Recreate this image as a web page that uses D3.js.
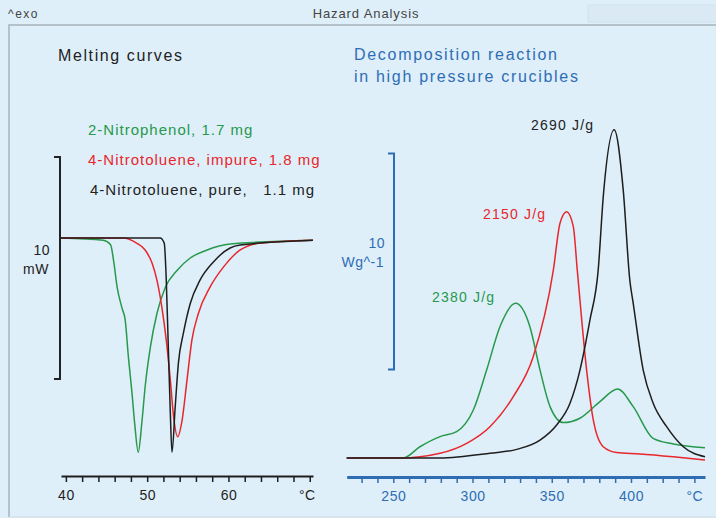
<!DOCTYPE html>
<html>
<head>
<meta charset="utf-8">
<script src="https://cdn.jsdelivr.net/npm/d3@7"></script>
<style>
html, body { margin: 0; padding: 0; background: #deeffa; }
svg { display: block; font-family: "Liberation Sans", Arial, sans-serif; }
</style>
</head>
<body>
<svg id="chart" width="716" height="518"></svg>
<script>
// ---- melting curves (left panel), heat flow in mW, endotherm down ----
var meltTicks = d3.range(40, 71, 2)
var meltLabels = [40, 50, 60]

var phenolTemp = [39.4, 44.6, 45.5, 45.9, 46.3, 46.9, 47.3, 47.7, 48.1, 48.5, 48.9, 49.35, 49.75, 50.4, 51.2, 52.2, 53.7, 55.3, 57.3, 60.2, 70.4]
var phenolVal  = [0, -0.1, -0.3, -1.1, -2.2, -3.15, -3.7, -5.4, -6.85, -8.5, -9.65, -8.3, -6.7, -4.9, -3.4, -2.25, -1.45, -0.9, -0.55, -0.27, -0.1]

var impureTemp = [39.4, 47.05, 48.7, 49.75, 50.6, 51.2, 51.8, 52.35, 52.85, 53.25, 53.75, 54.3, 54.9, 55.5, 56.3, 57.75, 59.4, 61.4, 63.9, 70.4]
var impureVal  = [0, 0, -0.23, -0.54, -1.13, -1.9, -3.1, -4.6, -6.4, -8.05, -8.95, -8.2, -6.4, -4.6, -3.4, -2.2, -1.3, -0.55, -0.23, -0.1]

var pureTemp = [39.4, 51.6, 52.1, 52.35, 52.6, 52.85, 53.05, 53.45, 53.85, 54.45, 55.3, 56.5, 58.15, 60.2, 61.45, 70.4]
var pureVal  = [0, 0, -0.23, -1.9, -4.9, -7.9, -9.65, -7.6, -5.6, -4.3, -2.95, -1.9, -1.08, -0.45, -0.32, -0.1]

var meltNames = ["2-Nitrophenol, 1.7 mg", "4-Nitrotoluene, impure, 1.8 mg", "4-Nitrotoluene, pure,   1.1 mg"]

// ---- decomposition (right panel), W/g, exotherm up ----
var decoTicks = d3.range(230, 441, 10)
var decoLabels = [250, 300, 350, 400]

var greenTemp = [220.6, 256.3, 266.8, 279.5, 290, 300.5, 308.9, 317.3, 327.2, 336.2, 342.6, 348.9, 357.3, 367.8, 380.4, 391.6, 401.4, 414, 426.7, 446.7]
var greenVal  = [0, 0, 0.52, 0.99, 1.22, 2.22, 4.07, 6.08, 7.16, 6.08, 4.07, 2.38, 1.64, 1.84, 2.61, 3.19, 2.38, 0.91, 0.65, 0.48]

var redTemp = [220.6, 254.2, 279.5, 296.3, 311, 325.7, 338.3, 351, 355.2, 359.4, 363.6, 366.1, 372, 376.2, 382.5, 390.9, 405.6, 426.7, 446.7]
var redVal  = [0, 0, 0.22, 0.68, 1.45, 2.84, 4.69, 8.7, 10.87, 11.4, 10.71, 8.7, 4.07, 1.76, 0.52, 0.25, 0.19, 0.06, -0.09]

var blackTemp = [220.6, 279.5, 311, 327.9, 342.6, 353.1, 361.5, 367.8, 374.1, 379.3, 382.5, 389.4, 395.1, 399.3, 401.4, 407.7, 414, 422.5, 433, 446.7]
var blackVal  = [0, 0, 0.22, 0.4, 0.83, 1.53, 2.53, 4.07, 6.39, 8.7, 12.1, 15.2, 12.4, 8.2, 7.16, 4.07, 2.53, 1.45, 0.52, 0.06]

var decoNames = ["2380 J/g", "2150 J/g", "2690 J/g"]

var green = "#27994a", red = "#e8262b", black = "#1e1e1e", blue = "#2e6db4"

var svg = d3.select("#chart")

// header and frame
svg.append("text").attr("x", 8).attr("y", 18).attr("font-size", 12).attr("letter-spacing", 1.5)
    .attr("fill", "#444").text("^exo")
svg.append("text").attr("x", 366).attr("y", 18).attr("font-size", 13).attr("letter-spacing", 0.9)
    .attr("fill", "#444").attr("text-anchor", "middle").text("Hazard Analysis")
svg.append("rect").attr("x", 588).attr("y", 5).attr("width", 130).attr("height", 17)
    .attr("fill", "#dae9f3").attr("stroke", "#d2e2ec")
svg.append("path").attr("d", "M9,517 V25 H716").attr("fill", "none").attr("stroke", "#a9b4bb").attr("stroke-width", 1.5)
svg.append("line").attr("x1", 9).attr("x2", 716).attr("y1", 517).attr("y2", 517).attr("stroke", "#cfdbe3")

function label(x, y, txt, color, size, spacing, anchor) {
    return svg.append("text")
        .attr("x", x).attr("y", y)
        .attr("font-size", size)
        .attr("fill", color)
        .attr("letter-spacing", spacing)
        .attr("text-anchor", anchor || "start")
        .style("white-space", "pre")
        .text(txt)
}

function drawAxis(scale, y, ticks, labels, color, width, unitDx) {
    var g = svg.append("g")
        .attr("transform", `translate(0,${y})`)
        .call(d3.axisBottom(scale)
            .tickValues(ticks)
            .tickSize(6)
            .tickSizeOuter(0)
            .tickFormat(d => labels.includes(d) ? d : (d === ticks[ticks.length - 1] ? "°C" : "")))
    g.select(".domain").attr("stroke", color).attr("stroke-width", width)
    g.selectAll(".tick line").attr("stroke", color).attr("stroke-width", 1.5)
    g.selectAll(".tick text")
        .attr("fill", color)
        .attr("font-size", 14)
        .attr("font-family", "Liberation Sans, Arial, sans-serif")
        .attr("letter-spacing", 0.5)
        .attr("y", 14)
    g.selectAll(".tick text").filter(d => d === ticks[ticks.length - 1]).attr("dx", unitDx)
}

function curve(x, y, temps, vals, color) {
    var line = d3.line()
        .x(d => x(d[0]))
        .y(d => y(d[1]))
        .curve(d3.curveMonotoneX)
    svg.append("path")
        .datum(d3.zip(temps, vals))
        .attr("d", line)
        .attr("fill", "none")
        .attr("stroke", color)
        .attr("stroke-width", 1.5)
}

// ---------- left panel ----------
var xL = d3.scaleLinear().domain([39.4, 70.4]).range([61, 313])
var yL = d3.scaleLinear().domain([-10, 5]).range([460, 127])

label(58, 61, "Melting curves", "#222", 16, 1.6)
label(88, 135, meltNames[0], green, 15, 1)
label(88, 165, meltNames[1], red, 15, 1)
label(90, 195, meltNames[2], "#222", 15, 1)

// 10 mW scale bar
var barTopL = 3.65
svg.append("path")
    .attr("d", `M54,${yL(barTopL)} H60 V${yL(barTopL - 10)} H54`)
    .attr("fill", "none").attr("stroke", "#222").attr("stroke-width", 2)
label(50, 255, "10", "#222", 14, 0.5, "end")
label(49, 274, "mW", "#222", 14, 0.5, "end")

drawAxis(xL, 476, meltTicks, meltLabels, "#1e1e1e", 2, -3)

curve(xL, yL, phenolTemp, phenolVal, green)
curve(xL, yL, impureTemp, impureVal, red)
curve(xL, yL, pureTemp, pureVal, black)

// ---------- right panel ----------
var xR = d3.scaleLinear().domain([220.6, 446.7]).range([346.7, 705])
var yR = d3.scaleLinear().domain([0, 15]).range([458, 134])

label(354, 60, "Decomposition reaction", blue, 16, 1.7)
label(354, 82, "in high pressure crucibles", blue, 16, 1.7)

var barTopR = 14.1
svg.append("path")
    .attr("d", `M388,${yR(barTopR)} H394 V${yR(barTopR - 10)} H388`)
    .attr("fill", "none").attr("stroke", blue).attr("stroke-width", 2)
label(385, 248, "10", blue, 14, 0.5, "end")
label(384, 267, "Wg^-1", blue, 14, 0.5, "end")

drawAxis(xR, 477, decoTicks, decoLabels, blue, 3, 0)

curve(xR, yR, greenTemp, greenVal, green)
curve(xR, yR, redTemp, redVal, red)
curve(xR, yR, blackTemp, blackVal, black)

label(432, 302, decoNames[0], green, 14, 1.2)
label(483, 219, decoNames[1], red, 14, 1.2)
label(531, 130, decoNames[2], "#222", 14, 1.2)
</script>
</body>
</html>
